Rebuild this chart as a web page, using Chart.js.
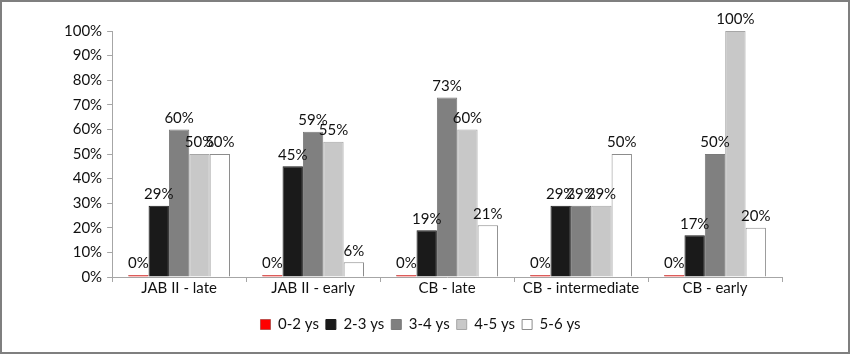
<!DOCTYPE html>
<html>
<head>
<meta charset="utf-8">
<script src="https://cdn.jsdelivr.net/npm/chart.js@4"></script>
<style>
  html, body { margin: 0; padding: 0; background: #fff; }
  #wrap { width: 850px; height: 354px; }
</style>
</head>
<body>
<div id="wrap"><canvas id="chart" width="850" height="354"></canvas></div>
<script>
const categories = ['JAB II - late', 'JAB II - early', 'CB - late', 'CB - intermediate', 'CB - early'];
const seriesNames = ['0-2 ys', '2-3 ys', '3-4 ys', '4-5 ys', '5-6 ys'];
const age02 = [0, 0, 0, 0, 0];
const age23 = [29, 45, 19, 29, 17];
const age34 = [60, 59, 73, 29, 50];
const age45 = [50, 55, 60, 29, 100];
const age56 = [50, 6, 21, 50, 20];
const yTicks = [0, 10, 20, 30, 40, 50, 60, 70, 80, 90, 100];

const fills = ['#ff0000', '#1a1a1a', '#808080', '#c8c8c8', '#ffffff'];
const borders = ['#c0504d', '#1a1a1a', '#7a7a7a', '#a6a6a6', '#8c8c8c'];
const allSeries = [age02, age23, age34, age45, age56];

const FONT = 'Lato, "Open Sans", sans-serif';

// draws the value above each bar
const valueLabels = {
  id: 'valueLabels',
  afterDatasetsDraw(chart) {
    const ctx = chart.ctx;
    ctx.save();
    ctx.font = '15px ' + FONT;
    ctx.fillStyle = '#111';
    ctx.textAlign = 'center';
    ctx.textBaseline = 'bottom';
    chart.data.datasets.forEach((ds, i) => {
      chart.getDatasetMeta(i).data.forEach((bar, j) => {
        ctx.fillText(ds.data[j] + '%', bar.x, bar.y - 4);
      });
    });
    ctx.restore();
  }
};

// frame round the whole picture
const frame = {
  id: 'frame',
  beforeDraw(chart) {
    const ctx = chart.ctx;
    ctx.save();
    ctx.fillStyle = '#fff';
    ctx.fillRect(0, 0, chart.width, chart.height);
    ctx.restore();
  },
  afterDraw(chart) {
    const ctx = chart.ctx;
    ctx.save();
    ctx.strokeStyle = '#7f7f7f';
    ctx.lineWidth = 2;
    ctx.strokeRect(1, 1, chart.width - 2, chart.height - 2);
    ctx.restore();
  }
};

new Chart(document.getElementById('chart'), {
  type: 'bar',
  data: {
    labels: categories,
    datasets: seriesNames.map((name, i) => ({
      label: name,
      data: allSeries[i],
      backgroundColor: fills[i],
      borderColor: borders[i],
      borderWidth: 1,
      minBarLength: i === 0 ? 2 : 0
    }))
  },
  options: {
    responsive: false,
    animation: false,
    categoryPercentage: 0.76,
    barPercentage: 1.0,
    layout: { padding: { left: 59, right: 68, top: 31, bottom: 12 } },
    scales: {
      x: {
        afterFit(scale) { scale.height = 33; },
        grid: { display: true, drawOnChartArea: false, color: '#a6a6a6', tickLength: 5 },
        border: { color: '#a6a6a6' },
        ticks: { color: '#111', font: { family: FONT, size: 15 }, padding: -3 }
      },
      y: {
        min: 0,
        max: 100,
        afterBuildTicks(axis) { axis.ticks = yTicks.map(v => ({ value: v })); },
        grid: { display: true, drawOnChartArea: false, color: '#a6a6a6', tickLength: 5 },
        border: { color: '#a6a6a6' },
        ticks: {
          color: '#111',
          font: { family: FONT, size: 15 },
          padding: 5,
          callback: v => v + '%'
        }
      }
    },
    plugins: {
      legend: {
        position: 'bottom',
        labels: {
          color: '#111',
          font: { family: FONT, size: 15 },
          boxWidth: 10,
          boxHeight: 10,
          padding: 7
        }
      },
      tooltip: { enabled: false }
    }
  },
  plugins: [valueLabels, frame]
});
</script>
</body>
</html>
